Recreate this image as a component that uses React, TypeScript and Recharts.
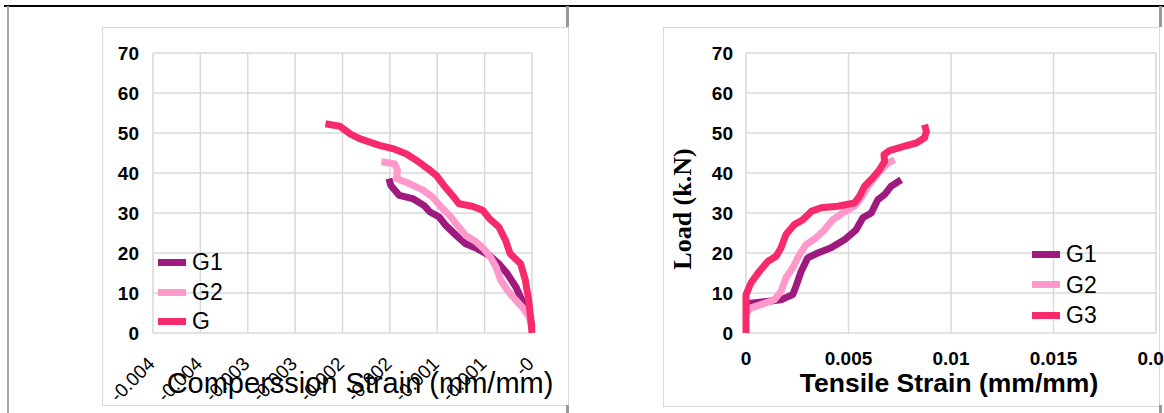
import { LineChart, Line, XAxis, YAxis, CartesianGrid, Legend } from "recharts";

const FONT = '"Liberation Sans", Arial, sans-serif';
const SERIF = '"Liberation Serif", "Times New Roman", serif';
const COLORS = ["#9e1a7e", "#ff99cc", "#f72a6b"];

const loadTicks = [0, 10, 20, 30, 40, 50, 60, 70];

// compression side, strain is negative
const compTicks = [-0.004, -0.0035, -0.003, -0.0025, -0.002, -0.0015, -0.001, -0.0005, 0];
const compTickLabels = ["-0.004", "-0.004", "-0.003", "-0.003", "-0.002", "-0.002", "-0.001", "-0.001", "-0"];
const compNames = ["G1", "G2", "G"];

const compG1Strain = [-0.00151, -0.00149, -0.0014, -0.00126, -0.00114, -0.00108, -0.00098, -0.00091, -0.0008, -0.0007, -0.00058, -0.00045, -0.00035, -0.00026, -0.00017, -0.00009, -0.00003, 0];
const compG1Load = [38.6, 36.9, 34.4, 33.6, 31.9, 30.3, 29.0, 26.9, 24.4, 22.3, 21.1, 19.4, 17.3, 14.8, 11.5, 7.3, 4.8, 1.5];

const compG2Strain = [-0.00159, -0.00145, -0.00142, -0.00143, -0.00129, -0.00115, -0.00105, -0.00096, -0.00087, -0.0008, -0.0007, -0.00059, -0.00051, -0.00044, -0.00038, -0.00033, -0.00026, -0.00017, -0.00009, -0.00003, 0];
const compG2Load = [42.8, 42.3, 40.7, 38.6, 37.3, 35.7, 34.0, 31.5, 29.4, 27.3, 24.4, 22.8, 21.1, 19.0, 16.5, 13.2, 10.7, 8.2, 6.1, 4.0, 1.0];

const compG3Strain = [-0.00218, -0.00203, -0.00192, -0.00182, -0.00161, -0.00147, -0.00133, -0.00122, -0.0011, -0.00101, -0.00093, -0.00084, -0.00077, -0.00063, -0.00052, -0.00045, -0.00035, -0.00028, -0.00023, -0.00012, -0.00007, -0.000035, -0.00001, 0];
const compG3Load = [52.3, 51.7, 49.8, 48.6, 46.9, 46.1, 44.8, 43.2, 41.1, 39.4, 36.9, 34.4, 32.3, 31.7, 30.7, 28.6, 26.5, 23.2, 19.8, 17.3, 13.2, 8.2, 3.0, 0];

// tension side
const tensTicks = [0, 0.005, 0.01, 0.015, 0.02];
const tensTickLabels = ["0", "0.005", "0.01", "0.015", "0.02"];
const tensNames = ["G1", "G2", "G3"];

const tensG1Strain = [0.0001, 0.0014, 0.00171, 0.00228, 0.00244, 0.00269, 0.00301, 0.0035, 0.00415, 0.0048, 0.00537, 0.0057, 0.00611, 0.00643, 0.00676, 0.00708, 0.00757];
const tensG1Load = [7.4, 8.1, 8.3, 9.6, 11.7, 15.4, 18.8, 20.0, 21.3, 23.3, 25.8, 28.8, 30.0, 33.3, 34.6, 36.7, 38.3];

const tensG2Strain = [0, 0.00024, 0.00073, 0.00138, 0.00171, 0.00195, 0.00228, 0.00261, 0.00293, 0.00342, 0.00383, 0.00423, 0.00472, 0.00529, 0.00562, 0.00594, 0.00627, 0.0066, 0.00692, 0.00725];
const tensG2Load = [5.0, 6.3, 7.1, 8.3, 10.4, 13.8, 16.3, 19.6, 22.1, 23.8, 25.8, 28.3, 30.0, 31.7, 33.8, 36.7, 38.8, 40.8, 42.5, 43.3];

const tensG3Strain = [0, 0, 0.00024, 0.00065, 0.00106, 0.00147, 0.00171, 0.00195, 0.00236, 0.00277, 0.00318, 0.00366, 0.00448, 0.00529, 0.00554, 0.00578, 0.00619, 0.00651, 0.00676, 0.00673, 0.007, 0.00774, 0.00831, 0.00871, 0.0088, 0.00871];
const tensG3Load = [0, 9.6, 12.5, 15.4, 17.9, 19.2, 21.3, 24.6, 27.1, 28.3, 30.4, 31.3, 31.7, 32.5, 34.2, 36.7, 38.8, 40.8, 42.9, 44.6, 45.6, 46.7, 47.5, 48.8, 50.4, 52.1];

const pts = (xs: number[], ys: number[]) => xs.map((x, i) => ({ strain: x, load: ys[i] }));

const compSeries = [pts(compG1Strain, compG1Load), pts(compG2Strain, compG2Load), pts(compG3Strain, compG3Load)];
const tensSeries = [pts(tensG1Strain, tensG1Load), pts(tensG2Strain, tensG2Load), pts(tensG3Strain, tensG3Load)];

// slanted tick text, its end sits just right of the tick
function SlantTick(props: any) {
  const { x, payload } = props;
  const i = compTicks.findIndex((t) => Math.abs(t - payload.value) < 1e-9);
  const tx = x + 3;
  const ty = 365;
  return (
    <text x={tx} y={ty} transform={`rotate(-45 ${tx} ${ty})`} textAnchor="end" fontFamily={FONT} fontSize={19} fill="#000">
      {compTickLabels[i]}
    </text>
  );
}

// axis title at a fixed spot; props passed in by the axis are ignored
function Title(props: any) {
  const { cx, cy, text, size, weight, family, rotate } = props;
  return (
    <text
      x={cx}
      y={cy}
      transform={rotate ? `rotate(-90 ${cx} ${cy})` : undefined}
      textAnchor="middle"
      dominantBaseline={rotate ? "central" : "alphabetic"}
      fontFamily={family || FONT}
      fontSize={size}
      fontWeight={weight || 400}
      fill="#000"
    >
      {text}
    </text>
  );
}

function KeyBox({ names, rowH }: { names: string[]; rowH: number }) {
  return (
    <div>
      {names.map((n, i) => (
        <div key={n} style={{ display: "flex", alignItems: "center", height: rowH }}>
          <span style={{ display: "inline-block", width: 28, height: 7, background: COLORS[i], marginRight: 6 }} />
          <span style={{ fontFamily: FONT, fontSize: 23, color: "#000", lineHeight: `${rowH}px` }}>{n}</span>
        </div>
      ))}
    </div>
  );
}

const yTick = { fill: "#000", fontSize: 19, fontWeight: 700, fontFamily: FONT };

function CompressionChart() {
  return (
    <LineChart width={580} height={413} margin={{ top: 53, right: 48, bottom: 0, left: 0 }}>
      <CartesianGrid stroke="#d9d9d9" strokeWidth={1.5} />
      <XAxis
        type="number"
        dataKey="strain"
        domain={[-0.004, 0]}
        ticks={compTicks}
        interval={0}
        height={80}
        axisLine={false}
        tickLine={false}
        tickSize={0}
        tickMargin={0}
        tick={<SlantTick />}
        label={(p: any) => <Title cx={360} cy={393} size={29} text="Comperssion Strain (mm/mm)" />}
      />
      <YAxis
        type="number"
        dataKey="load"
        domain={[0, 70]}
        ticks={loadTicks}
        width={153}
        axisLine={false}
        tickLine={false}
        tickSize={0}
        tickMargin={14}
        tick={yTick}
      />
      <Legend
        layout="horizontal"
        verticalAlign="middle"
        align="center"
        wrapperStyle={{ left: 158, top: 248, width: 90, height: 90 }}
        content={() => <KeyBox names={compNames} rowH={29.5} />}
      />
      {compSeries.map((d, i) => (
        <Line
          key={compNames[i]}
          data={d}
          dataKey="load"
          name={compNames[i]}
          type="linear"
          stroke={COLORS[i]}
          strokeWidth={7}
          strokeLinejoin="round"
          dot={false}
          activeDot={false}
          isAnimationActive={false}
        />
      ))}
    </LineChart>
  );
}

function TensionChart() {
  return (
    <LineChart width={584} height={413} margin={{ top: 53, right: 8, bottom: 0, left: 0 }}>
      <CartesianGrid stroke="#d9d9d9" strokeWidth={1.5} />
      <XAxis
        type="number"
        dataKey="strain"
        domain={[0, 0.02]}
        ticks={tensTicks}
        interval={0}
        height={80}
        axisLine={false}
        tickLine={false}
        tickSize={0}
        tickMargin={19}
        tick={{ fill: "#000", fontSize: 19, fontWeight: 700, fontFamily: FONT }}
        tickFormatter={(v: number) => tensTickLabels[tensTicks.indexOf(v)]}
        label={(p: any) => <Title cx={369} cy={392} size={26.5} weight={700} text="Tensile Strain (mm/mm)" />}
      />
      <YAxis
        type="number"
        dataKey="load"
        domain={[0, 70]}
        ticks={loadTicks}
        width={166}
        axisLine={false}
        tickLine={false}
        tickSize={0}
        tickMargin={13}
        tick={yTick}
        label={(p: any) => <Title cx={102} cy={209} size={26} weight={700} family={SERIF} rotate text="Load (k.N)" />}
      />
      <Legend
        layout="horizontal"
        verticalAlign="middle"
        align="center"
        wrapperStyle={{ left: 452, top: 239, width: 90, height: 92 }}
        content={() => <KeyBox names={tensNames} rowH={30.5} />}
      />
      {tensSeries.map((d, i) => (
        <Line
          key={tensNames[i]}
          data={d}
          dataKey="load"
          name={tensNames[i]}
          type="linear"
          stroke={COLORS[i]}
          strokeWidth={7}
          strokeLinejoin="round"
          dot={false}
          activeDot={false}
          isAnimationActive={false}
        />
      ))}
    </LineChart>
  );
}

const rule = (style: React.CSSProperties) => <div style={{ position: "absolute", ...style }} />;

export default function App() {
  return (
    <div style={{ position: "absolute", left: 0, top: 0, width: 1164, height: 413, background: "#fff", overflow: "hidden" }}>
      {rule({ left: 102, top: 27, width: 465, height: 377, border: "1px solid #d9d9d9" })}
      {rule({ left: 663, top: 27, width: 495, height: 378, border: "1px solid #d9d9d9" })}
      {rule({ left: 4, top: 5, width: 1160, height: 2, background: "#000" })}
      {rule({ left: 7, top: 6, width: 2, height: 407, background: "#a6a6a6" })}
      {rule({ left: 566, top: 6, width: 3, height: 21, background: "#999" })}
      {rule({ left: 566, top: 405, width: 3, height: 8, background: "#999" })}
      {rule({ left: 1159, top: 6, width: 3, height: 21, background: "#999" })}
      {rule({ left: 1159, top: 405, width: 3, height: 8, background: "#999" })}
      <div style={{ position: "absolute", left: 0, top: 0 }}>
        <CompressionChart />
      </div>
      <div style={{ position: "absolute", left: 580, top: 0 }}>
        <TensionChart />
      </div>
    </div>
  );
}
